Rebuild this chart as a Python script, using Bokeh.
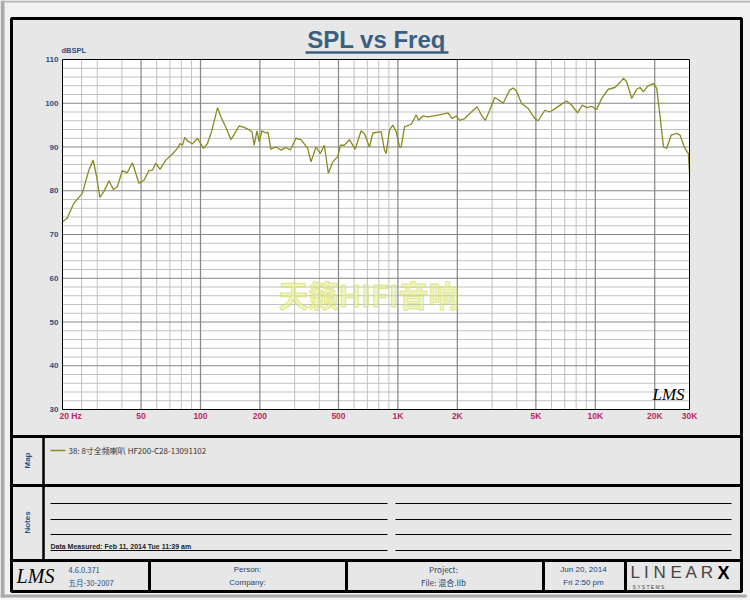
import math
from bokeh.plotting import figure
from bokeh.models import Range1d, LogScale
from bokeh.core.properties import value
from bokeh.embed import file_html
from bokeh.resources import INLINE

# ---------------- data ----------------
freq = [20, 21.1, 22.8, 25.2, 27.2, 28.6, 29.8, 30.9, 32.4, 34.4, 36.2, 37.9, 40.2, 42.6, 45.2,
        48.8, 51.7, 54.8, 57.1, 59.3, 62.4, 66.7, 72.1, 76.4, 78.8, 81.0, 83.2, 85.9, 91.1, 96.6,
        103.6, 108.5, 113.7, 118.2, 122.0, 126.8, 134.4, 142.5, 151.1, 157.0, 166.5, 176.5, 182.2,
        187.1, 193.1, 198.4, 204.8, 214.6, 219.6, 227.4, 241.1, 255.6, 271.0, 285.0, 304.6, 322.9,
        349.2, 362.9, 384.8, 404.6, 424.0, 444.3, 467.8, 496.0, 511.2, 535.6, 568.0, 607.1, 651.2,
        676.7, 717.5, 746.6, 822.7, 855.1, 872.2, 906.4, 943.2, 980.4, 1019, 1039, 1080, 1168, 1238,
        1272, 1340, 1420, 1596, 1794, 1880, 1977, 2055, 2178, 2356, 2518, 2648, 2774, 2917, 3093,
        3256, 3412, 3686, 3835, 3986, 4226, 4570, 4937, 5136, 5548, 5882, 6362, 6745, 7151, 7580,
        8131, 8590, 9032, 9576, 10150, 10770, 11640, 12580, 13180, 13870, 14420, 15290, 16210,
        16840, 17530, 18420, 19690, 20480, 21290, 22150, 23010, 24200, 25860, 26880, 28300, 29600,
        30000]
spl = [72.9, 73.7, 77.1, 79.4, 84.7, 87.0, 83.2, 78.5, 79.8, 82.3, 80.3, 80.9, 84.6, 84.1, 86.4,
       81.7, 82.4, 84.6, 84.7, 86.3, 84.9, 87.0, 88.4, 89.7, 90.8, 90.4, 92.2, 91.4, 90.7, 92.0,
       89.7, 90.8, 93.5, 96.5, 99.0, 96.9, 94.5, 91.7, 93.5, 94.8, 94.5, 93.9, 93.5,
       90.4, 93.7, 91.2, 93.7, 93.2, 93.4, 89.5, 90.0, 89.3, 89.9, 89.3, 92.0, 91.7,
       89.7, 86.6, 90.0, 88.5, 90.4, 84.0, 86.6, 87.8, 90.4, 90.4, 91.7, 89.5, 93.7,
       93.1, 90.0, 93.2, 93.5, 89.3, 88.5, 93.9, 95.0, 93.5, 90.0, 90.0, 94.6, 95.2, 97.3,
       96.1, 97.1, 96.9, 97.3, 97.8, 96.5, 97.1, 96.1, 96.5, 98.0, 99.2, 97.3, 96.1, 98.4, 101.3,
       100.7, 100.0, 103.0, 103.5, 102.8, 100.0, 98.8, 96.5, 96.0, 98.4, 98.0, 99.0, 99.8, 100.5, 99.6,
       97.8, 99.6, 99.0, 99.3, 98.6, 101.1, 103.2, 103.6, 104.5, 105.7, 104.9, 101.1, 103.2,
       103.6, 102.6, 103.9, 104.5, 103.4, 96.9, 90.0, 89.7, 92.7, 93.1, 92.7, 89.9, 88.5,
       84.3]

x_ticks = [20, 50, 100, 200, 500, 1000, 2000, 5000, 10000, 20000, 30000]
x_tick_labels = ["20 Hz", "50", "100", "200", "500", "1K", "2K", "5K", "10K", "20K", "30K"]
y_ticks = [30, 40, 50, 60, 70, 80, 90, 100, 110]
y_tick_labels = ["30", "40", "50", "60", "70", "80", "90", "100", "110"]
grid_major_f = [50, 100, 200, 500, 1000, 2000, 5000, 10000, 20000]
grid_minor_f = [25, 30, 40, 60, 70, 80, 90, 300, 400, 600, 700, 800, 900,
                3000, 4000, 6000, 7000, 8000, 9000]
grid_major_db = [40, 50, 60, 70, 80, 90, 100]
grid_minor_db = [v for v in range(32, 110, 2) if v % 10 != 0]

title_text = "SPL vs Freq"
y_unit = "dBSPL"
legend_text = "38: 8寸全频喇叭 HF200-C28-13091102"
watermark = "天籁HIFI音响"
measured = "Data Measured: Feb 11, 2014  Tue 11:39 am"
footer_version = ["4.6.0.371", "五月-30-2007"]
footer_person = ["Person:", "Company:"]
footer_project = ["Project:", "File: 混合.llb"]
footer_date = ["Jun 20, 2014", "Fri 2:50 pm"]

# ---------------- layout in pixels ----------------
W, H = 750, 600
FL, FR, FT, FB = 62, 689, 59, 409
F0, F1 = 20, 30000
D0, D1 = 30, 110

kx = (FR - FL) / (math.log10(F1) - math.log10(F0))
fx_start = 10 ** (math.log10(F0) - FL / kx)
fx_end = 10 ** (math.log10(F0) + (W - FL) / kx)
ky = (FB - FT) / (D1 - D0)
fy_start = D0 - (H - FB) / ky
fy_end = D1 + FT / ky

p = figure(width=W, height=H, x_range=Range1d(0, W), y_range=Range1d(H, 0),
           output_backend="svg", toolbar_location=None, min_border=0,
           x_axis_location=None, y_axis_location=None)
p.grid.visible = False
p.outline_line_color = None
p.background_fill_color = "#f2f2f2"
p.border_fill_color = "#f2f2f2"
p.extra_x_ranges = {"fx": Range1d(fx_start, fx_end)}
p.extra_x_scales = {"fx": LogScale()}
p.extra_y_ranges = {"fy": Range1d(fy_start, fy_end)}

SANS = value("Liberation Sans")
CJK = value("Noto Sans CJK SC")

# page edges
p.quad(left=[0], right=[4], top=[0], bottom=[597], fill_color="#a9a9a9", line_color=None)
p.quad(left=[0], right=[750], top=[0], bottom=[2], fill_color="#b5b5b5", line_color=None)
p.quad(left=[0], right=[746], top=[594], bottom=[597], fill_color="#a9a9a9", line_color=None)

# outer panel
p.quad(left=[11], right=[741], top=[18], bottom=[591], fill_color="#e7e7e7",
       line_color="black", line_width=3)
for yy in [436, 485, 560]:
    p.segment(x0=[11], x1=[741], y0=[yy], y1=[yy], line_color="black", line_width=3)
p.segment(x0=[43], x1=[43], y0=[436], y1=[560], line_color="black", line_width=2.5)
for xx in [149, 346, 543, 625]:
    p.segment(x0=[xx], x1=[xx], y0=[560], y1=[591], line_color="black", line_width=3)

# chart area
p.quad(left=[F0], right=[F1], bottom=[D0], top=[D1], fill_color="white", line_color=None,
       x_range_name="fx", y_range_name="fy")
p.segment(x0=grid_minor_f, x1=grid_minor_f, y0=[D0] * len(grid_minor_f), y1=[D1] * len(grid_minor_f),
          line_color="#c2c2c2", line_width=1, x_range_name="fx", y_range_name="fy")
p.segment(x0=[F0] * len(grid_minor_db), x1=[F1] * len(grid_minor_db), y0=grid_minor_db, y1=grid_minor_db,
          line_color="#c2c2c2", line_width=1, x_range_name="fx", y_range_name="fy")
p.segment(x0=grid_major_f, x1=grid_major_f, y0=[D0] * len(grid_major_f), y1=[D1] * len(grid_major_f),
          line_color="#858585", line_width=1.2, x_range_name="fx", y_range_name="fy")
p.segment(x0=[F0] * len(grid_major_db), x1=[F1] * len(grid_major_db), y0=grid_major_db, y1=grid_major_db,
          line_color="#858585", line_width=1.2, x_range_name="fx", y_range_name="fy")

# watermark
p.text(x=[368], y=[293], text=[watermark], text_font=CJK, text_font_size="30px",
       text_font_style="bold", text_color="#e4ee8c", text_alpha=0.55,
       text_outline_color="#c9d843", text_align="center", text_baseline="middle")

# curve
p.line(freq, spl, line_color="#8a8a1e", line_width=1.3, x_range_name="fx", y_range_name="fy")

# frame border
p.quad(left=[F0], right=[F1], bottom=[D0], top=[D1], fill_color=None, line_color="black",
       line_width=1, x_range_name="fx", y_range_name="fy")

# tick labels
p.text(x=x_ticks[1:], y=[415] * (len(x_ticks) - 1), text=x_tick_labels[1:], x_range_name="fx",
       text_font=SANS, text_font_size="8.5px", text_font_style="bold", text_color="#c0285e",
       text_align="center", text_baseline="middle")
p.text(x=x_ticks[:1], y=[415], text=x_tick_labels[:1], x_range_name="fx",
       text_font=SANS, text_font_size="8.5px", text_font_style="bold", text_color="#c0285e",
       text_align="left", text_baseline="middle", x_offset=-3)
p.text(x=[58] * len(y_ticks), y=y_ticks, text=y_tick_labels, y_range_name="fy",
       text_font=SANS, text_font_size="8px", text_font_style="bold", text_color="#2c4f83",
       text_align="right", text_baseline="middle")
p.text(x=[61], y=[50], text=[y_unit], text_font=SANS, text_font_size="7.5px",
       text_font_style="bold", text_color="#2c4f83", text_align="left", text_baseline="middle")

# title
p.text(x=[376], y=[39], text=[title_text], text_font=SANS, text_font_size="24px",
       text_font_style="bold", text_color="#3b607f", text_align="center", text_baseline="middle")
p.segment(x0=[305], x1=[448], y0=[52], y1=[52], line_color="#3b607f", line_width=2.5)

# LMS mark in chart
p.text(x=[668], y=[394], text=["LMS"], text_font=value("Liberation Serif"), text_font_size="17px",
       text_font_style="italic", text_color="black", text_align="center", text_baseline="middle")

# Map panel
p.text(x=[27], y=[460], text=["Map"], text_font=SANS, text_font_size="8px", text_font_style="bold",
       text_color="#2b4f8a", angle=math.pi / 2, text_align="center", text_baseline="middle")
p.segment(x0=[50], x1=[65], y0=[450], y1=[450], line_color="#8a8a1e", line_width=1.3)
p.text(x=[68], y=[450], text=[legend_text], text_font=CJK, text_font_size="8px",
       text_color="#333333", text_align="left", text_baseline="middle")

# Notes panel
p.text(x=[27], y=[522], text=["Notes"], text_font=SANS, text_font_size="8px", text_font_style="bold",
       text_color="#2b4f8a", angle=math.pi / 2, text_align="center", text_baseline="middle")
for yy in [503, 519, 534, 550]:
    p.segment(x0=[50, 395], x1=[387, 731], y0=[yy, yy], y1=[yy, yy], line_color="black", line_width=1)
p.text(x=[50], y=[546], text=[measured], text_font=SANS, text_font_size="7px", text_font_style="bold",
       text_color="#222222", text_align="left", text_baseline="middle")

# footer
p.text(x=[35], y=[575], text=["LMS"], text_font=value("Liberation Serif"), text_font_size="20px",
       text_font_style="italic", text_color="black", text_align="center", text_baseline="middle")
p.text(x=[68, 68], y=[569, 582], text=footer_version, text_font=CJK, text_font_size="7.5px",
       text_color="#2a4d8f", text_align="left", text_baseline="middle")
p.text(x=[247, 247], y=[569, 582], text=footer_person, text_font=SANS, text_font_size="8px",
       text_color="#233f73", text_align="center", text_baseline="middle")
p.text(x=[443, 443], y=[569, 582], text=footer_project, text_font=CJK, text_font_size="8px",
       text_color="#233f73", text_align="center", text_baseline="middle")
p.text(x=[583, 583], y=[569, 582], text=footer_date, text_font=SANS, text_font_size="8px",
       text_color="#233f73", text_align="center", text_baseline="middle")
p.text(x=[630], y=[572], text=["L I N E A R"], text_font=SANS, text_font_size="17px",
       text_color="#444444", text_align="left", text_baseline="middle")
p.text(x=[717], y=[572], text=["X"], text_font=SANS, text_font_size="18px", text_font_style="bold",
       text_color="black", text_align="left", text_baseline="middle")
p.text(x=[632], y=[586], text=["S      Y      S      T      E      M      S"], text_font=SANS,
       text_font_size="5px", text_color="#444444", text_align="left", text_baseline="middle")

open("out.html", "w").write(file_html(p, INLINE))
